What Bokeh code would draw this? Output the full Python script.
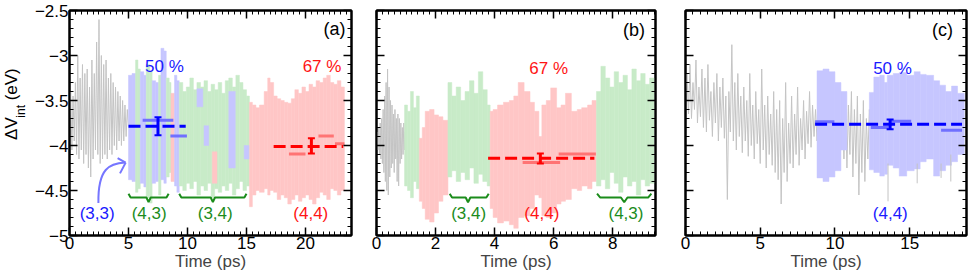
import numpy as np
from bokeh.plotting import figure
from bokeh.layouts import row
from bokeh.models import (Range1d, SingleIntervalTicker, LinearAxis,
                          CustomJSTickFormatter, CustomLabelingPolicy, Label,
                          ColumnDataSource)
from bokeh.embed import file_html
from bokeh.resources import INLINE

FONT = "Liberation Sans"

# ======================= DATA =======================
# ---- panel (a) ----
a_gray_dt = 0.1
a_gray = [-3.70, -3.40, -4.05, -3.45, -3.95, -3.30, -4.10, -3.00, -4.15, -3.25,
          -4.05, -3.10, -4.20, -3.20, -4.10, -3.15, -4.25, -3.35, -4.35, -3.05,
          -4.15, -3.20, -4.05, -2.85, -4.10, -2.60, -4.20, -3.00, -4.15, -3.10,
          -4.10, -3.05, -4.15, -3.25, -4.05, -3.20, -4.10, -3.30, -4.00, -3.35,
          -4.05, -3.40, -3.95, -3.45, -4.00, -3.50, -3.95, -3.55, -3.90, -3.60,
          -3.80]
a_edges = [5.0, 5.3, 5.6, 5.8, 6.0, 6.3, 6.5, 6.8, 7.0, 7.3, 7.55, 7.75, 8.0, 8.2,
           8.45, 8.6, 8.9, 9.1, 9.3, 9.6, 9.9, 10.2, 10.5, 10.8, 11.1, 11.4, 11.7,
           12.0, 12.3, 12.6, 12.9, 13.2, 13.5, 13.8, 14.1, 14.4, 14.7, 15.0, 15.25,
           15.5, 15.8, 16.1, 16.5, 16.8, 17.0, 17.3, 17.6, 17.9, 18.2, 18.5, 18.8,
           19.1, 19.4, 19.7, 20.0, 20.3, 20.6, 20.9, 21.2, 21.5, 21.8, 22.1, 22.4,
           22.7, 23.0, 23.3]
a_state = (["B", "B", "G", "G", "B", "B", "G", "G", "B", "B", "G", "B", "B", "G",
            "G", "R", "B", "B"] + ["G"] * 20 + ["R"] * 27)
a_top = [-3.22, -3.20, -3.05, -3.15, -3.18, -3.22, -3.10, -3.18, -3.28, -3.30,
         -3.22, -2.92, -2.95, -3.25, -3.30, -3.42, -3.22, -3.28,
         -3.30, -3.40, -3.35, -3.25, -3.38, -3.30, -3.35, -3.28, -3.40, -3.32,
         -3.38, -3.30, -3.42, -3.28, -3.25, -3.35, -3.22, -3.30, -3.38, -3.45,
         -3.52, -3.55, -3.58, -3.55, -3.40, -3.25, -3.30, -3.45, -3.48, -3.50,
         -3.52, -3.53, -3.48, -3.38, -3.42, -3.35, -3.40, -3.32, -3.35, -3.28,
         -3.30, -3.25, -3.22, -3.30, -3.32, -3.28, -3.35]
a_bot = [-4.38, -4.40, -4.52, -4.48, -4.42, -4.46, -4.58, -4.64, -4.42, -4.40,
         -4.55, -4.38, -4.42, -4.35, -4.30, -4.40, -4.45, -4.52,
         -4.45, -4.50, -4.42, -4.48, -4.40, -4.55, -4.45, -4.50, -4.42, -4.58,
         -4.48, -4.52, -4.45, -4.50, -4.42, -4.55, -4.48, -4.40, -4.50, -4.45,
         -4.68, -4.55, -4.50, -4.52, -4.48, -4.55, -4.50, -4.52, -4.60, -4.55,
         -4.58, -4.65, -4.60, -4.55, -4.62, -4.58, -4.55, -4.60, -4.65, -4.58,
         -4.52, -4.55, -4.60, -4.48, -4.50, -4.55, -4.50]
a_blob_left = [10.8, 11.4, 12.1, 13.5, 14.8]
a_blob_right = [11.3, 11.8, 12.5, 14.05, 15.2]
a_blob_top = [-3.37, -3.78, -4.07, -3.40, -4.00]
a_blob_bot = [-3.57, -4.00, -4.42, -4.25, -4.15]
a_blob_state = ["B", "B", "R", "B", "B"]
a_mean_y = [-3.785, -4.01]
a_mean_t0 = [5.0, 17.3]
a_mean_t1 = [9.85, 23.2]
a_mean_state = ["B", "R"]
a_sub_t0 = [6.2, 8.55, 18.6, 21.1, 22.5]
a_sub_t1 = [8.8, 9.95, 20.0, 22.4, 23.3]
a_sub_y = [-3.72, -3.895, -4.095, -3.895, -3.98]
a_sub_state = ["B", "B", "R", "R", "R"]
a_err_t = [7.5, 20.5]
a_err_y = [-3.785, -4.005]
a_err_e = [0.10, 0.085]
a_err_state = ["B", "R"]

# ---- panel (b) ----
b_gray_dt = 0.025
b_gray = [-3.95, -3.85, -4.05, -3.80, -4.10, -3.75, -4.15, -3.70, -4.20, -3.60,
          -4.30, -3.45, -4.40, -3.30, -4.50, -3.15, -4.55, -3.35, -4.35, -3.50,
          -4.25, -3.55, -4.20, -3.65, -4.30, -3.60, -4.15, -3.70, -4.40, -3.65,
          -4.45, -3.70, -4.20, -3.75, -4.15, -3.80, -4.10, -3.75, -4.05, -3.85,
          -3.95]
b_edges = [0.95, 1.05, 1.15, 1.25, 1.35, 1.45, 1.55, 1.65, 1.80, 1.95, 2.10, 2.25,
           2.42, 2.55, 2.70, 2.85, 3.00, 3.15, 3.30, 3.45, 3.60, 3.75, 3.85, 3.95,
           4.10, 4.30, 4.50, 4.65, 4.80, 5.00, 5.20, 5.35, 5.50, 5.60, 5.75, 5.90,
           6.10, 6.25, 6.40, 6.60, 6.80, 6.95, 7.15, 7.30, 7.45, 7.60, 7.75, 7.90,
           8.05, 8.20, 8.35, 8.50, 8.65, 8.80, 8.95, 9.10, 9.25, 9.40]
b_state = ["G"] * 5 + ["R"] * 7 + ["G"] * 10 + ["R"] * 22 + ["G"] * 13
b_top = [-3.55, -3.62, -3.40, -3.58, -3.45,
         -3.92, -3.80, -3.62, -3.60, -3.66, -3.68, -3.72,
         -3.30, -3.45, -3.35, -3.50, -3.40, -3.28, -3.42, -3.18, -3.38, -3.55,
         -3.62, -3.60, -3.55, -3.52, -3.50, -3.45, -3.30, -3.40, -3.52, -3.62,
         -3.90, -3.55, -3.50, -3.36, -3.58, -3.55, -3.42, -3.62, -3.60, -3.58,
         -3.55, -3.50,
         -3.40, -3.12, -3.25, -3.35, -3.18, -3.30, -3.22, -3.38, -3.15, -3.28,
         -3.20, -3.32, -3.25]
b_bot = [-4.45, -4.50, -4.58, -4.40, -4.48,
         -4.62, -4.70, -4.82, -4.85, -4.75, -4.62, -4.55,
         -4.35, -4.28, -4.40, -4.30, -4.38, -4.25, -4.42, -4.32, -4.40, -4.45,
         -4.70, -4.80, -4.86, -4.84, -4.88, -4.92, -4.80, -4.78, -4.70, -4.55,
         -4.58, -4.78, -4.80, -4.75, -4.65, -4.62, -4.60, -4.48, -4.50, -4.45,
         -4.48, -4.40,
         -4.45, -4.38, -4.48, -4.30, -4.42, -4.52, -4.35, -4.45, -4.40, -4.55,
         -4.38, -4.45, -4.42]
b_mean_y = [-4.143]
b_mean_t0 = [3.78]
b_mean_t1 = [7.38]
b_mean_state = ["R"]
b_sub_t0 = [4.95, 6.17]
b_sub_t1 = [6.22, 7.43]
b_sub_y = [-4.19, -4.095]
b_sub_state = ["R", "R"]
b_err_t = [5.55]
b_err_y = [-4.145]
b_err_e = [0.055]
b_err_state = ["R"]

# ---- panel (c) ----
c_gray_dt = 0.1
c_gray = [-3.45, -3.20, -3.65, -3.10, -3.70, -3.30, -3.60, -3.05, -3.75, -3.35,
          -3.68, -3.15, -3.80, -3.25, -3.85, -3.10, -3.72, -3.40, -3.90, -3.30,
          -3.75, -3.20, -3.95, -3.35, -3.80, -3.25, -3.92, -3.45, -4.60, -3.40,
          -3.85, -2.88, -3.95, -3.30, -4.05, -3.20, -3.90, -3.45, -4.08, -3.35,
          -3.95, -3.50, -4.12, -3.20, -4.00, -3.55, -4.15, -3.40, -3.98, -3.60,
          -4.20, -3.15, -4.05, -3.55, -4.25, -3.45, -4.10, -3.65, -4.22, -3.40,
          -4.30, -3.60, -4.38, -3.50, -4.65, -3.70, -4.30, -3.30, -4.40, -3.75,
          -4.20, -3.45, -4.25, -3.65, -4.10, -3.35, -4.22, -3.70, -4.05, -3.50,
          -4.15, -3.62, -3.98, -3.40, -4.02, -3.55, -3.90, -3.60, -3.95, -3.70,
          -3.85, -3.75, -3.90, -3.70, -3.80, -3.75, -3.85, -3.72, -3.90, -3.78,
          -3.85, -3.70, -3.95, -3.60, -4.05, -3.50, -4.15, -3.45, -4.25, -3.55,
          -4.10, -3.40, -4.35, -3.60, -4.20, -3.45, -4.55, -3.65, -4.30, -3.50,
          -4.40, -3.70, -4.15, -3.60, -3.90]
c_left = [8.8, 9.2, 9.6, 10.0, 10.4, 12.3, 12.6, 13.0, 13.3, 13.5, 13.9, 14.3,
          14.8, 15.3, 15.7, 16.1, 16.6, 17.0, 17.4, 17.8, 18.2]
c_right = [9.2, 9.6, 10.0, 10.4, 10.8, 12.6, 13.0, 13.3, 13.5, 13.9, 14.3, 14.8,
           15.3, 15.7, 16.1, 16.6, 17.0, 17.4, 17.8, 18.2, 18.65]
c_top = [-3.17, -3.15, -3.18, -3.30, -3.40, -3.41, -3.24, -3.22, -3.30, -3.22,
         -3.20, -3.19, -3.22, -3.18, -3.21, -3.22, -3.28, -3.33, -3.40, -3.34, -3.42]
c_bot = [-4.36, -4.40, -4.35, -4.28, -4.05, -4.27, -4.30, -4.34, -4.32, -4.22,
         -4.25, -4.34, -4.28, -4.26, -4.18, -4.15, -4.34, -4.28, -4.22, -4.18, -4.10]
c_state = ["B"] * 21
c_spike_t = [13.55, 15.5, 17.1, 17.75]
c_spike_y0 = [-4.20, -4.20, -4.20, -4.10]
c_spike_y1 = [-4.62, -4.42, -4.36, -4.40]
c_mean_y = [-3.763]
c_mean_t0 = [8.67]
c_mean_t1 = [18.5]
c_mean_state = ["B"]
c_sub_t0 = [8.67, 12.4, 13.7, 17.1]
c_sub_t1 = [9.96, 13.6, 15.1, 18.5]
c_sub_y = [-3.737, -3.80, -3.73, -3.83]
c_sub_state = ["B", "B", "B", "B"]
c_err_t = [13.69]
c_err_y = [-3.765]
c_err_e = [0.055]
c_err_state = ["B"]

# ======================= STYLE =======================
BAND = {"B": "#c6c6ff", "G": "#c8ebc8", "R": "#ffc6c6"}
MEAN = {"B": "#0000ff", "R": "#ff0000"}
SUB = {"B": "#7070ff", "R": "#ff7474"}
GRAY = "#c4c4c4"
BLUE_TXT = "#1a1aff"
RED_TXT = "#ff1414"
GREEN_TXT = "#1b8c1b"
H = 273
TOP = 10


def style_axis(ax, labels=True):
    ax.axis_line_width = 2
    ax.axis_line_color = "black"
    ax.major_tick_in = 8
    ax.major_tick_out = 0
    ax.minor_tick_in = 4
    ax.minor_tick_out = 0
    ax.major_tick_line_width = 1.5
    ax.minor_tick_line_width = 1
    ax.major_tick_line_color = "black"
    ax.minor_tick_line_color = "black"
    ax.major_label_text_font = FONT
    ax.major_label_text_color = "black"
    if labels:
        ax.major_label_text_font_size = "17px"
        ax.major_label_standoff = 1
    else:
        ax.major_label_text_font_size = "0px"
        ax.major_label_standoff = 0
        ax.major_label_policy = CustomLabelingPolicy(code="return []")


def make_panel(width, xmax, x_int, bl, br, ylabels):
    p = figure(width=width, height=H, x_range=Range1d(0, xmax),
               y_range=Range1d(-5, -2.5), output_backend="svg",
               toolbar_location=None, min_border_left=bl, min_border_right=br,
               min_border_top=TOP, min_border_bottom=38)
    p.grid.visible = False
    p.outline_line_color = "black"
    p.outline_line_width = 2
    p.background_fill_color = "white"
    p.border_fill_color = "white"
    p.xaxis.ticker = SingleIntervalTicker(interval=x_int, num_minor_ticks=10)
    p.yaxis.ticker = SingleIntervalTicker(interval=0.5, num_minor_ticks=5)
    top = LinearAxis(ticker=SingleIntervalTicker(interval=x_int, num_minor_ticks=10))
    right = LinearAxis(ticker=SingleIntervalTicker(interval=0.5, num_minor_ticks=5))
    p.add_layout(top, "above")
    p.add_layout(right, "right")
    style_axis(p.below[0], True)
    style_axis(p.left[0], ylabels)
    style_axis(top, False)
    style_axis(right, False)
    xa = p.below[0]
    xa.axis_label = "Time (ps)"
    xa.axis_label_text_font = FONT
    xa.axis_label_text_font_size = "17px"
    xa.axis_label_text_font_style = "normal"
    xa.axis_label_standoff = 0
    if ylabels:
        p.left[0].formatter = CustomJSTickFormatter(code="""
            var s = (Math.abs(tick - Math.round(tick)) < 1e-9) ? Math.round(tick).toFixed(0) : tick.toFixed(1);
            return s.replace('-', '\u2212');
        """)
    return p


def add_bands(p, left, right, top, bot, state):
    src = ColumnDataSource(dict(left=left, right=right, top=top, bottom=bot,
                                color=[BAND[s] for s in state]))
    p.quad(left="left", right="right", top="top", bottom="bottom", source=src,
           fill_color="color", line_color="color", line_width=0.5)


def add_gray(p, dt, vals):
    t = [round(i * dt, 4) for i in range(len(vals))]
    p.line(t, vals, line_color=GRAY, line_width=1)


def add_means(p, my, t0, t1, st, sx0, sx1, sy, sst, et, ey, ee, est):
    p.segment(x0=sx0, y0=sy, x1=sx1, y1=sy, line_color=[SUB[s] for s in sst],
              line_width=3)
    for y, a, b, s in zip(my, t0, t1, st):
        p.line([a, b], [y, y], line_color=MEAN[s], line_width=3, line_dash="12 5")
    cols = [MEAN[s] for s in est]
    lo = [y - e for y, e in zip(ey, ee)]
    hi = [y + e for y, e in zip(ey, ee)]
    p.segment(x0=et, y0=lo, x1=et, y1=hi, line_color=cols, line_width=3)
    p.scatter(x=et + et, y=lo + hi, marker="dash", size=7, line_width=2,
              line_color=cols + cols)


def txt(p, x, y, text, color, size="17px", align="center", angle=0.0, baseline="middle"):
    p.add_layout(Label(x=x, y=y, text=text, text_color=color, text_font=FONT,
                       text_font_size=size, text_align=align, text_baseline=baseline,
                       angle=angle))


def brace(p, t0, tc, t1, color):
    d = 0.06 * (t1 - t0) if (t1 - t0) < 3 else 0.18
    xs = [t0, t0 + d, tc - d, tc, tc + d, t1 - d, t1]
    ys = [-4.535, -4.578, -4.578, -4.63, -4.578, -4.578, -4.535]
    p.line(xs, ys, line_color=color, line_width=2)


# ======================= Y-AXIS TITLE (own small canvas) =======================
YW = 26
py = figure(width=YW, height=H, x_range=Range1d(0, YW), y_range=Range1d(0, H),
            output_backend="svg", toolbar_location=None, min_border=0,
            x_axis_location=None, y_axis_location=None)
py.grid.visible = False
py.outline_line_color = None
txt(py, 11, H - 157, "\u0394V", "black", size="17px", align="left", angle=np.pi / 2)
txt(py, 20, H - 130, "int", "black", size="12px", align="left", angle=np.pi / 2)
txt(py, 11, H - 109, "(eV)", "black", size="17px", align="left", angle=np.pi / 2)

# ======================= PANEL (a) =======================
pa = make_panel(363 - YW, 23.9, 5, 69 - YW, 12, True)
add_gray(pa, a_gray_dt, a_gray)
add_bands(pa, a_edges[:-1], a_edges[1:], a_top, a_bot, a_state)
add_bands(pa, a_blob_left, a_blob_right, a_blob_top, a_blob_bot, a_blob_state)
add_means(pa, a_mean_y, a_mean_t0, a_mean_t1, a_mean_state, a_sub_t0, a_sub_t1,
          a_sub_y, a_sub_state, a_err_t, a_err_y, a_err_e, a_err_state)
pa.bezier(x0=[2.45], y0=[-4.64], x1=[4.72], y1=[-4.19], cx0=[2.40], cy0=[-4.25],
          cx1=[3.40], cy1=[-4.20], line_color="#7676ff", line_width=2)
pa.segment(x0=[4.76, 4.76], y0=[-4.19, -4.19], x1=[4.08, 4.28], y1=[-4.14, -4.31],
           line_color="#7676ff", line_width=2)
brace(pa, 5.0, 6.7, 8.4, GREEN_TXT)
brace(pa, 9.3, 12.15, 15.0, GREEN_TXT)
txt(pa, 8.05, -3.125, "50 %", BLUE_TXT)
txt(pa, 21.4, -3.125, "67 %", RED_TXT)
txt(pa, 22.45, -2.705, "(a)", "black", size="18px")
txt(pa, 2.34, -4.76, "(3,3)", BLUE_TXT)
txt(pa, 6.75, -4.76, "(4,3)", GREEN_TXT)
txt(pa, 12.35, -4.76, "(3,4)", GREEN_TXT)
txt(pa, 20.45, -4.76, "(4,4)", RED_TXT)

# ======================= PANEL (b) =======================
pb = make_panel(307, 9.45, 2, 13, 15, False)
add_gray(pb, b_gray_dt, b_gray)
add_bands(pb, b_edges[:-1], b_edges[1:], b_top, b_bot, b_state)
add_means(pb, b_mean_y, b_mean_t0, b_mean_t1, b_mean_state, b_sub_t0, b_sub_t1,
          b_sub_y, b_sub_state, b_err_t, b_err_y, b_err_e, b_err_state)
brace(pb, 2.48, 3.1, 3.8, GREEN_TXT)
brace(pb, 7.47, 8.39, 9.31, GREEN_TXT)
txt(pb, 5.83, -3.147, "67 %", RED_TXT)
txt(pb, 8.72, -2.72, "(b)", "black", size="18px")
txt(pb, 3.12, -4.75, "(3,4)", GREEN_TXT)
txt(pb, 5.6, -4.75, "(4,4)", RED_TXT)
txt(pb, 8.45, -4.75, "(4,3)", GREEN_TXT)

# ======================= PANEL (c) =======================
pc = make_panel(299, 18.8, 5, 15, 3, False)
add_gray(pc, c_gray_dt, c_gray)
add_bands(pc, c_left, c_right, c_top, c_bot, c_state)
pc.segment(x0=c_spike_t, y0=c_spike_y0, x1=c_spike_t, y1=c_spike_y1,
           line_color=GRAY, line_width=1)
add_means(pc, c_mean_y, c_mean_t0, c_mean_t1, c_mean_state, c_sub_t0, c_sub_t1,
          c_sub_y, c_sub_state, c_err_t, c_err_y, c_err_e, c_err_state)
txt(pc, 13.85, -3.147, "50 %", BLUE_TXT)
txt(pc, 13.7, -4.75, "(4,4)", BLUE_TXT)
txt(pc, 17.2, -2.715, "(c)", "black", size="18px")

layout = row(py, pa, pb, pc)
open("out.html", "w").write(file_html(layout, INLINE))
